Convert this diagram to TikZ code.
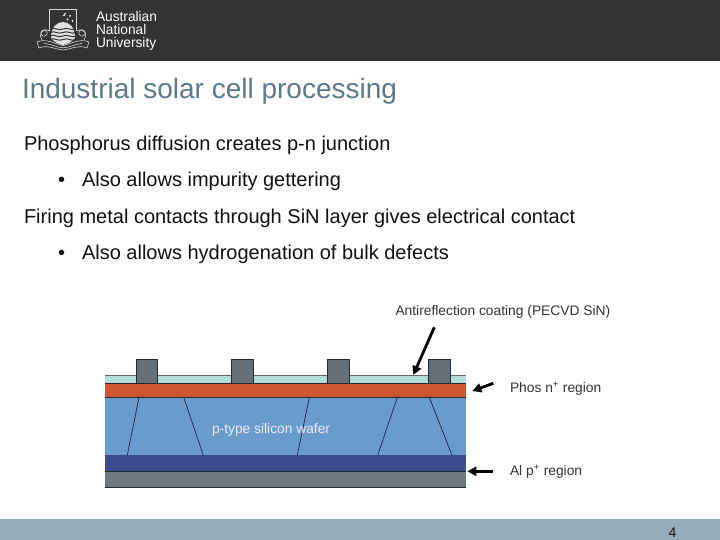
\documentclass[tikz,border=0pt]{standalone}
\usepackage{fontspec}
\setmainfont{Liberation Sans}
\usetikzlibrary{arrows.meta}
\definecolor{headbg}{HTML}{333333}
\definecolor{footbg}{HTML}{96AEBB}
\definecolor{titlec}{HTML}{5F7A86}
\definecolor{bodyc}{HTML}{111111}
\definecolor{coat}{HTML}{B4DCDA}
\definecolor{contact}{HTML}{656F78}
\definecolor{nreg}{HTML}{CF5530}
\definecolor{wafer}{HTML}{6A9CCB}
\definecolor{preg}{HTML}{3A4B8E}
\definecolor{alu}{HTML}{6E7A80}
\definecolor{edge}{HTML}{1F2A33}
\definecolor{labc}{HTML}{333333}
\tikzset{
 txt/.style={anchor=base west,inner sep=0pt,outer sep=0pt},
 ttl/.style={txt,text=titlec,font=\fontsize{28}{28}\selectfont},
 bod/.style={txt,text=bodyc,font=\fontsize{20}{20}\selectfont},
 lab/.style={txt,text=labc,font=\fontsize{13.8}{13.8}\selectfont},
 logot/.style={txt,text=white,font=\fontsize{14}{14}\selectfont},
 grain/.style={draw=edge!90!blue,line width=0.7pt},
 point/.style={line width=2.8pt,black,-{Triangle[length=9pt,width=9pt]}},
 crest/.style={draw=white!85!black,line width=0.6pt}
}
\begin{document}
\begin{tikzpicture}[x=1pt,y=-1pt]
\useasboundingbox (0,0) rectangle (720,540);
\fill[white] (0,0) rectangle (720,540);
\fill[headbg] (0,0) rectangle (720,61);
\fill[footbg] (0,519) rectangle (720,540);
% crest
\draw[crest] (49.5,31) -- (49.5,9.7) -- (76.7,9.7) -- (76.7,31);
\fill[white!88!black] (51,38) .. controls (51,27) and (57,22) .. (63,22) .. controls (69,22) and (75,27) .. (75,38) .. controls (72,42) and (67,44) .. (63,45) .. controls (59,44) and (54,42) .. (51,38) -- cycle;
\foreach \yy in {29,32.5,36,39.5}{\draw[headbg,line width=1pt] (50,\yy) .. controls (55,\yy-2.5) and (58,\yy+2.5) .. (63,\yy) .. controls (68,\yy-2.5) and (71,\yy+2.5) .. (76,\yy);}
\foreach \sx/\sy in {65/14,70/16,67.5/19.5,64/15.5,72.5/21}{\fill[white] (\sx,\sy) circle (1);}
\draw[crest] (50,31) .. controls (42,27) and (38,35) .. (42,40);
\draw[crest] (76.7,31) .. controls (85,27) and (88,35) .. (84,40);
\draw[crest] (44,33) circle (3.2);
\draw[crest] (82,33) circle (3.2);
\draw[crest] (37,42) .. controls (46,38) and (55,44) .. (63,45.5) .. controls (71,44) and (80,38) .. (89,42) -- (87,48) .. controls (78,44.5) and (72,49) .. (63,50) .. controls (54,49) and (47,44.5) .. (39,48) -- cycle;
\draw[crest] (44,43.5) .. controls (52,44) and (56,47.5) .. (63,47.8) .. controls (70,47.5) and (75,44) .. (82,43.5);
\node[logot] (logoa) at (96,21.5) {\scalebox{0.98}[1]{Australian}};
\node[logot] (logob) at (96,34.5) {\scalebox{0.98}[1]{National}};
\node[logot] (logoc) at (96,47.5) {\scalebox{0.98}[1]{University}};
% text
\node[ttl] (title) at (22,98.5) {Industrial solar cell processing};
\node[bod] (l1) at (24,151) {Phosphorus diffusion creates p-n junction};
\node[bod] (b1) at (58,187) {•};
\node[bod] (l2) at (82,187) {Also allows impurity gettering};
\node[bod] (l3) at (24,223) {Firing metal contacts through SiN layer gives electrical contact};
\node[bod] (b2) at (58,259) {•};
\node[bod] (l4) at (82,259) {Also allows hydrogenation of bulk defects};
\node[txt,text=bodyc,font=\fontsize{14}{14}\selectfont] (pg) at (668.5,537) {4};
% layers
\fill[coat] (104.7,375.7) rectangle (465.7,383.3);
\draw[edge!70!white,line width=0.5pt] (104.7,375.7) -- (465.7,375.7);
\fill[nreg] (104.7,383.3) rectangle (465.7,397.3);
\fill[wafer] (104.7,397.3) rectangle (465.7,455.3);
\fill[preg] (104.7,455.3) rectangle (465.7,471.3);
\fill[alu] (104.7,471.3) rectangle (465.7,487.3);
\draw[edge,line width=0.7pt] (104.7,383.3) -- (465.7,383.3);
\draw[edge,line width=0.6pt] (104.7,397.3) -- (465.7,397.3);
\draw[edge,line width=0.8pt] (104.7,471.3) -- (465.7,471.3);
\draw[edge,line width=0.6pt] (104.7,487.3) -- (465.7,487.3);
\foreach \cx in {136,231.7,327.3,428.3}{\draw[edge,line width=0.6pt,fill=contact] (\cx,383) -- (\cx,359.3) -- (\cx+21.6,359.3) -- (\cx+21.6,383);}
\draw[grain] (139,397.3) -- (127.3,455.3);
\draw[grain] (183.7,397.3) -- (203.3,455.3);
\draw[grain] (309.3,397.3) -- (297.3,455.3);
\draw[grain] (397.3,397.3) -- (377.7,455.3);
\draw[grain] (429.3,397.3) -- (452,455.3);
\node[lab,text=white!92!blue] (wlab) at (212,433.5) {p-type silicon wafer};
\node[lab] (anti) at (395.5,315.5) {Antireflection coating (PECVD SiN)};
\node[lab] (phos) at (510,392.5) {Phos n\textsuperscript{+} region};
\node[lab] (al) at (510,475.5) {Al p\textsuperscript{+} region};
\coordinate (a1) at (434.3,327.3); \coordinate (a2) at (413.3,375);
\coordinate (p1) at (493.3,383.3); \coordinate (p2) at (472.3,391);
\coordinate (q1) at (492.7,471.3); \coordinate (q2) at (467.3,471.3);
\draw[point] (a1) -- (a2);
\draw[point] (p1) -- (p2);
\draw[point] (q1) -- (q2);
\end{tikzpicture}
\end{document}
